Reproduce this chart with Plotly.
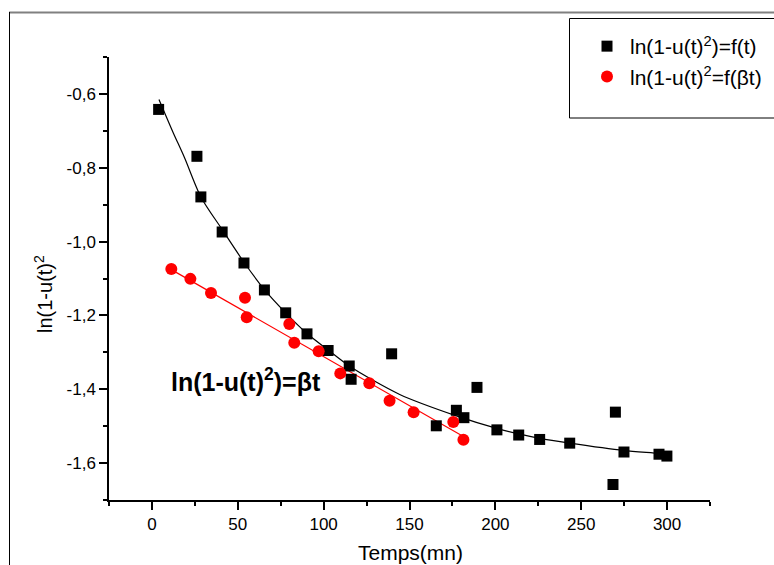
import plotly.graph_objects as go

# ---- data ----
black_x = [3.9, 26.2, 28.5, 40.9, 53.6, 65.5, 77.9, 90.3, 102.6, 114.9, 116.0, 139.6, 165.6,
           177.3, 181.7, 189.3, 200.9, 213.6, 225.8, 243.3, 268.5, 269.9, 274.9, 295.3, 299.9]
black_y = [-0.642, -0.769, -0.879, -0.974, -1.058, -1.131, -1.193, -1.250, -1.295, -1.337,
           -1.373, -1.304, -1.499, -1.457, -1.477, -1.395, -1.510, -1.524, -1.536, -1.546,
           -1.658, -1.462, -1.570, -1.576, -1.581]

red_x = [11.3, 22.4, 34.4, 54.2, 55.2, 80.0, 82.9, 97.1, 109.7, 126.6, 138.4, 152.4, 175.5, 181.4]
red_y = [-1.074, -1.101, -1.139, -1.152, -1.205, -1.223, -1.274, -1.297, -1.357, -1.384,
         -1.431, -1.462, -1.489, -1.537]

# fitted curves as drawn in the reference
black_fit_x = [4.1, 12.2, 19.0, 28.5, 41.0, 53.6, 65.5, 77.9, 90.3, 102.7, 114.9, 144.3,
               177.3, 200.8, 213.6, 225.8, 243.3, 274.9, 295.3, 300.3]
black_fit_y = [-0.615, -0.703, -0.773, -0.879, -0.968, -1.056, -1.130, -1.193, -1.249, -1.294,
               -1.337, -1.414, -1.472, -1.506, -1.521, -1.533, -1.546, -1.566, -1.574, -1.577]
red_fit_x = [11.3, 181.4]
red_fit_y = [-1.076, -1.528]

x_tickvals = [0, 50, 100, 150, 200, 250, 300]
x_ticktext = ["0", "50", "100", "150", "200", "250", "300"]
y_tickvals = [-1.6, -1.4, -1.2, -1.0, -0.8, -0.6]
y_ticktext = ["-1,6", "-1,4", "-1,2", "-1,0", "-0,8", "-0,6"]

name_black = "ln(1-u(t)<sup>2</sup>)=f(t)"
name_red = "ln(1-u(t)<sup>2</sup>=f(βt)"
x_title = "Temps(mn)"
y_title = "ln(1-u(t)<sup>2</sup>"
note = "<b>ln(1-u(t)<sup>2</sup>)=βt</b>"

FONT = "Liberation Sans, Arial, sans-serif"

fig = go.Figure()
fig.add_trace(go.Scatter(x=black_fit_x, y=black_fit_y, mode="lines",
                         line=dict(color="black", width=1.2, shape="spline", smoothing=0.8),
                         showlegend=False, hoverinfo="skip"))
fig.add_trace(go.Scatter(x=red_fit_x, y=red_fit_y, mode="lines",
                         line=dict(color="red", width=1.2),
                         showlegend=False, hoverinfo="skip"))
fig.add_trace(go.Scatter(x=black_x, y=black_y, mode="markers", name=name_black,
                         marker=dict(symbol="square", size=11, color="black")))
fig.add_trace(go.Scatter(x=red_x, y=red_y, mode="markers", name=name_red,
                         marker=dict(symbol="circle", size=12, color="red")))

axis_common = dict(showline=True, linecolor="black", linewidth=1.5, ticks="outside",
                   ticklen=8, tickwidth=1.5, tickcolor="black", showgrid=False,
                   zeroline=False, mirror=False,
                   tickfont=dict(family=FONT, size=17, color="black"))

fig.update_xaxes(range=[-25, 325], tickvals=x_tickvals, ticktext=x_ticktext,
                 minor=dict(ticks="outside", ticklen=4, tickwidth=1.5, tickcolor="black", dtick=25,
                            tick0=0),
                 **axis_common)
fig.update_yaxes(range=[-1.7, -0.5], tickvals=y_tickvals, ticktext=y_ticktext,
                 minor=dict(ticks="outside", ticklen=4, tickwidth=1.5, tickcolor="black", dtick=0.1,
                            tick0=-0.5),
                 **axis_common)

L, R, T, B = 109, 64, 57, 65
W, H = 774, 565
pw, ph = W - L - R, H - T - B


def px_x(p):
    return (p - L) / pw


def px_y(p):
    return (H - B - p) / ph


shapes = [
    # outer frame: grey top line, black left line
    dict(type="line", xref="paper", yref="paper", x0=px_x(9), x1=px_x(800), y0=px_y(12.5), y1=px_y(12.5),
         line=dict(color="#808080", width=2)),
    dict(type="line", xref="paper", yref="paper", x0=px_x(9.5), x1=px_x(9.5), y0=px_y(12), y1=px_y(600),
         line=dict(color="black", width=1)),
    # legend box
    dict(type="rect", xref="paper", yref="paper", x0=px_x(569.5), x1=px_x(800), y0=px_y(18.5), y1=px_y(118),
         line=dict(color="black", width=1), fillcolor="rgba(0,0,0,0)"),
]

annotations = [
    dict(text=x_title, xref="paper", yref="paper", x=px_x(410), y=px_y(552), showarrow=False,
         xanchor="center", yanchor="middle", font=dict(family=FONT, size=21, color="black")),
    dict(text=y_title, xref="paper", yref="paper", x=px_x(43), y=px_y(294), showarrow=False,
         textangle=-90, xanchor="center", yanchor="middle", font=dict(family=FONT, size=20, color="black")),
    dict(text=note, xref="x", yref="y", x=10.0, y=-1.376, showarrow=False,
         xanchor="left", yanchor="middle", font=dict(family=FONT, size=25, color="black")),
]

fig.update_layout(
    width=W, height=H,
    margin=dict(l=L, r=R, t=T, b=B, autoexpand=False),
    paper_bgcolor="white", plot_bgcolor="white",
    font=dict(family=FONT, color="black"),
    shapes=shapes, annotations=annotations,
    legend=dict(x=px_x(584), y=px_y(26), xanchor="left", yanchor="top",
                bgcolor="rgba(0,0,0,0)", borderwidth=0,
                font=dict(family=FONT, size=21, color="black"),
                tracegroupgap=0, itemwidth=36),
)

fig.write_html("out.html")
